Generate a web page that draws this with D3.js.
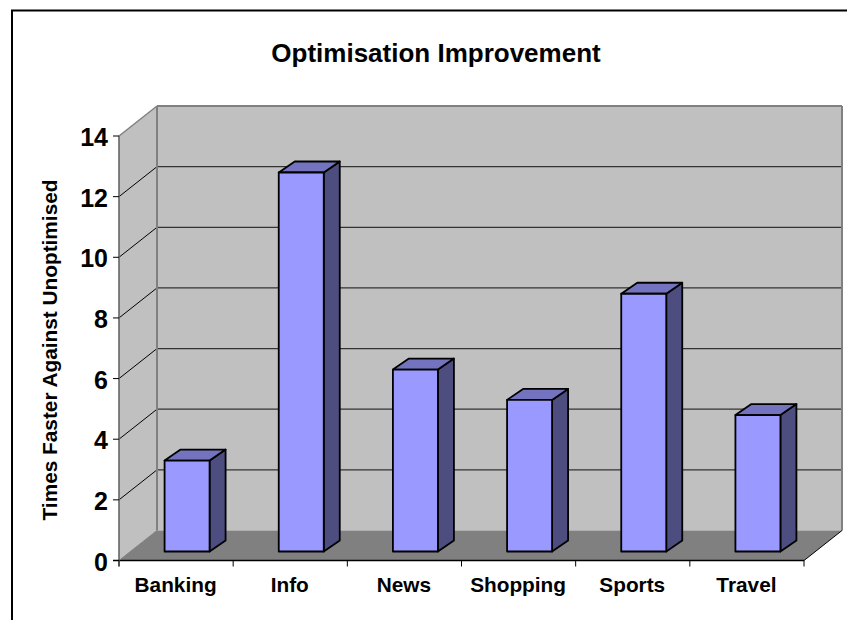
<!DOCTYPE html>
<html><head><meta charset="utf-8">
<script src="https://cdn.jsdelivr.net/npm/d3@7/dist/d3.min.js"></script>
<style>html,body{margin:0;padding:0;background:#fff}svg{display:block}text{font-family:"Liberation Sans",Arial,sans-serif;font-weight:bold;fill:#000}</style>
</head><body><script>
const categories = ["Banking","Info","News","Shopping","Sports","Travel"];
const values = [3,12.5,6,5,8.5,4.5];
const yTicks = [0,2,4,6,8,10,12,14];
const titleText = "Optimisation Improvement";
const yTitle = "Times Faster Against Unoptimised";

const W=847,H=620;
const x0=119,x1=804,y0=560.5,y14=136;
const depthX=38,depthY=-30;
const barWidth=45,barDX=16,barDY=-11,barOffX=11,barOffY=-9;
const svg=d3.select("body").append("svg").attr("width",W).attr("height",H);
const x=d3.scaleBand().domain(categories).range([x0,x1]);
const y=d3.scaleLinear().domain([0,14]).range([y0,y14]);
const line=(a,b,c,d,col,w)=>svg.append("line").attr("x1",a).attr("y1",b).attr("x2",c).attr("y2",d).attr("stroke",col).attr("stroke-width",w);
const poly=(pts,fill,stroke,w)=>svg.append("polygon").attr("points",pts.map(p=>p.join(",")).join(" ")).attr("fill",fill).attr("stroke",stroke||"none").attr("stroke-width",w||0).attr("stroke-linejoin","round");

// outer frame: top and left only
line(11,10.5,W,10.5,"#000",2);
line(12,10,12,H,"#000",2);

// walls
poly([[x0+depthX,y14+depthY],[x1+depthX,y14+depthY],[x1+depthX,y0+depthY],[x0+depthX,y0+depthY]],"#c0c0c0");
poly([[x0,y14],[x0+depthX,y14+depthY],[x0+depthX,y0+depthY],[x0,y0]],"#c0c0c0");
poly([[x0,y0],[x1,y0],[x1+depthX,y0+depthY],[x0+depthX,y0+depthY]],"#808080");

// gridlines
yTicks.slice(1,-1).forEach(t=>{
  line(x0,y(t),x0+depthX,y(t)+depthY,"#000",1);
  line(x0+depthX,y(t)+depthY,x1+depthX,y(t)+depthY,"#333",1.3);
});
// wall edges
line(x0,y14,x0+depthX,y14+depthY,"#808080",1.5);
line(x0+depthX,y14+depthY,x1+depthX,y14+depthY,"#808080",2);
line(x1+depthX,y14+depthY,x1+depthX,y0+depthY,"#808080",2);
line(x0+depthX,y14+depthY,x0+depthX,y0+depthY,"#808080",2);
line(x0,y14,x0,y0,"#808080",1.2);

// axes
line(x0,y14,x0,y0+6,"#555",1);
line(x0-6,y0,x1,y0,"#000",1.4);
line(x0,y0,x0+depthX,y0+depthY,"#808080",1);
line(x1,y0,x1+depthX,y0+depthY,"#000",1);
yTicks.forEach(t=>{
  line(x0-6,y(t),x0,y(t),"#000",1);
  svg.append("text").attr("x",x0-11).attr("y",y(t)+10).attr("text-anchor","end").attr("font-size",25).text(t);
});
[...categories.map(c=>x(c)),x1].forEach(v=>line(v,y0,v,y0+6,"#000",1));
categories.forEach(c=>{
  svg.append("text").attr("x",x(c)+x.bandwidth()/2-0.5).attr("y",592).attr("text-anchor","middle").attr("font-size",20.8).text(c);
});

// bars
categories.forEach((c,i)=>{
  const cx=x(c)+x.bandwidth()/2+barOffX;
  const l=cx-barWidth/2,r=cx+barWidth/2;
  const b=y(0)+barOffY, t=b-(y(0)-y(values[i]));
  poly([[r,t],[r+barDX,t+barDY],[r+barDX,b+barDY],[r,b]],"#4d4d80","#000",1.8);
  poly([[l,t],[l+barDX,t+barDY],[r+barDX,t+barDY],[r,t]],"#7373bf","#000",1.8);
  poly([[l,t],[r,t],[r,b],[l,b]],"#9999ff","#000",1.8);
});

svg.append("text").attr("x",436).attr("y",62).attr("text-anchor","middle").attr("font-size",26).text(titleText);
svg.append("text").attr("transform","translate(57,350) rotate(-90)").attr("text-anchor","middle").attr("font-size",20.8).text(yTitle);
</script></body></html>
